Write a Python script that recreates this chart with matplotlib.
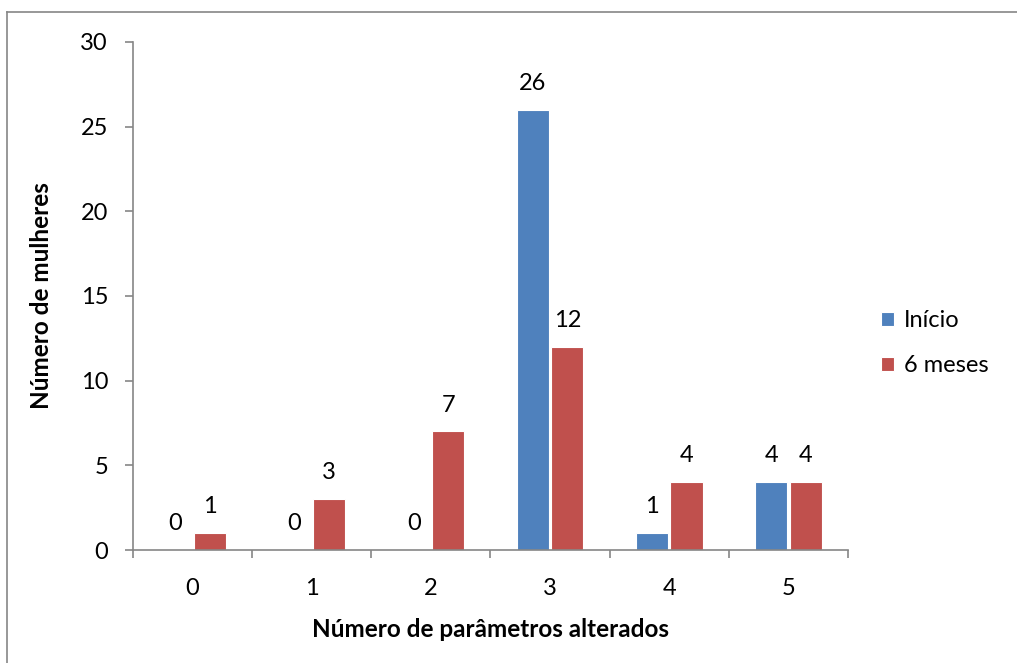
import numpy as np
import matplotlib
matplotlib.use("Agg")
import matplotlib.pyplot as plt
from matplotlib.lines import Line2D

plt.rcParams["font.family"] = ["Lato", "DejaVu Sans"]

categorias = ["0", "1", "2", "3", "4", "5"]
inicio = [0, 0, 0, 26, 1, 4]
seis_meses = [1, 3, 7, 12, 4, 4]

azul = "#4F81BD"
vermelho = "#C0504D"
cinza = "#868686"

fig = plt.figure(figsize=(10.17, 6.63), dpi=100)
ax = fig.add_axes([0.1308, 0.1704, 0.7030, 0.7663])

x = np.arange(len(categorias))
w = 0.27
b1 = ax.bar(x - w / 2 - 0.01, inicio, w, color=azul, edgecolor="white", linewidth=0.8, label="Início")
b2 = ax.bar(x + w / 2 + 0.01, seis_meses, w, color=vermelho, edgecolor="white", linewidth=0.8, label="6 meses")

for bars, vals in [(b1, inicio), (b2, seis_meses)]:
    for r, v in zip(bars, vals):
        ax.annotate(str(v), (r.get_x() + r.get_width() / 2, v), xytext=(0, 19),
                    textcoords="offset points", ha="center", va="center", fontsize=17)

ax.set_xlim(-0.5, 5.5)
ax.set_ylim(0, 30)
ax.set_yticks(range(0, 31, 5))
ax.set_xticks(x)
ax.set_xticklabels(categorias)
ax.set_xticks(np.arange(-0.5, 6, 1), minor=True)
ax.tick_params(axis="x", which="major", length=0, pad=20, labelsize=17)
ax.tick_params(axis="x", which="minor", length=6, color=cinza, width=1.2)
ax.tick_params(axis="y", length=6, color=cinza, width=1.2, pad=12, labelsize=17)

for s in ["top", "right"]:
    ax.spines[s].set_visible(False)
for s in ["left", "bottom"]:
    ax.spines[s].set_color(cinza)
    ax.spines[s].set_linewidth(1.2)

ax.set_xlabel("Número de parâmetros alterados", fontsize=17.5, fontweight="bold", labelpad=14)
ax.set_ylabel("Número de mulheres", fontsize=17.5, fontweight="bold", labelpad=20)

ax.legend(loc="center left", bbox_to_anchor=(1.016, 0.407), frameon=False, fontsize=17,
          handlelength=0.55, handleheight=0.55, handletextpad=0.45, labelspacing=1.0)

# moldura do gráfico
fig.add_artist(Line2D([7 / 1017, 1], [1 - 12 / 663, 1 - 12 / 663], color=cinza, lw=1.2))
fig.add_artist(Line2D([7 / 1017, 7 / 1017], [0, 1 - 12 / 663], color=cinza, lw=1.2))

fig.savefig("out.png", dpi=100, facecolor="white")
